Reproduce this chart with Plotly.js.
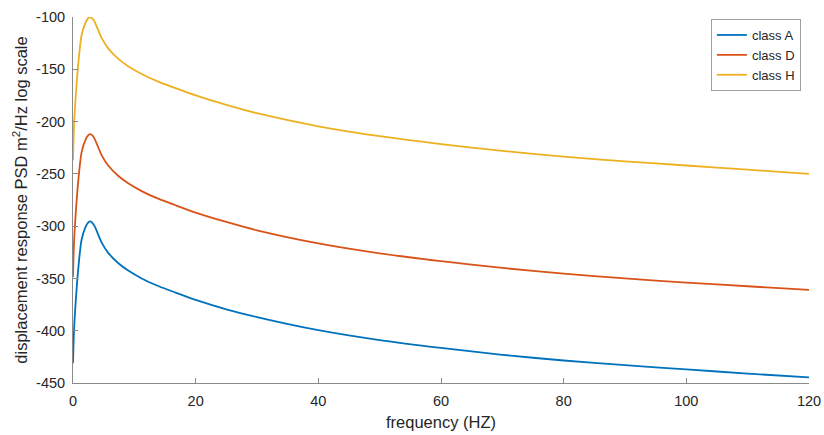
<!DOCTYPE html>
<html>
<head>
<meta charset="utf-8">
<script src="https://cdn.plot.ly/plotly-3.0.1.min.js"></script>
<style>html,body{margin:0;padding:0;background:#fff;}#chart{width:824px;height:435px;}</style>
</head>
<body>
<div id="chart"></div>
<script>
const freq = [0, 0.15, 0.3, 0.5, 0.9, 1.4, 2.0, 2.5, 2.8, 3.2, 3.6, 4.7, 5.8, 7.4, 9, 11.2, 14, 16.7, 20, 25, 30, 40, 50, 60, 70, 80, 90, 100, 110, 120];
const classA = [-431, -402, -385, -367, -338, -313, -301.5, -296.5, -295.5, -297, -301, -316, -326, -335.5, -342.5, -350, -357.5, -363.5, -370.5, -379.5, -387, -399.5, -409, -416.5, -423, -428.5, -433, -437, -441, -444.7];
const classD = [-348.5, -318, -301, -283, -254, -229.5, -218, -213, -212, -213.5, -217.5, -232.5, -242.5, -252, -259, -266.5, -274, -280, -287, -296, -304, -316.5, -326, -333.5, -340, -345.5, -350, -354, -357.5, -361];
const classH = [-237, -206, -189, -171, -142, -117.5, -106, -101, -100.3, -101.5, -105.5, -120.5, -130.5, -140, -147, -154.5, -162, -168, -175, -184, -192, -204.5, -214, -221.5, -228, -233.5, -238, -242, -246, -250];
const seriesNames = ['class A', 'class D', 'class H'];
const xTicks = [0, 20, 40, 60, 80, 100, 120];
const yTicks = [-450, -400, -350, -300, -250, -200, -150, -100];

const colors = ['#0072BD', '#D95319', '#EDB120'];
const data = [classA, classD, classH].map((ys, i) => ({
  x: freq, y: ys, type: 'scatter', mode: 'lines', name: seriesNames[i],
  line: {color: colors[i], width: 1.8, shape: 'spline', smoothing: 0.8}
}));

const fam = 'Liberation Sans, Arial, sans-serif';
const txt = '#262626';
const layout = {
  width: 824, height: 435,
  margin: {l: 73, r: 15, t: 17, b: 52},
  paper_bgcolor: '#fff', plot_bgcolor: '#fff',
  font: {family: fam, size: 14.5, color: txt},
  showlegend: true,
  legend: {x: 0.989, y: 0.9945, xanchor: 'right', yanchor: 'top', bgcolor: '#fff',
    bordercolor: '#A0A0A0', borderwidth: 1, font: {family: fam, size: 13, color: txt},
    itemwidth: 30, tracegroupgap: 0},
  xaxis: {range: [0, 120], tickvals: xTicks, ticktext: xTicks.map(String), showgrid: false, zeroline: false,
    showline: true, linecolor: '#8a8a8a', linewidth: 1, ticks: 'inside', ticklen: 5, tickcolor: '#8a8a8a',
    ticklabelstandoff: 5, tickfont: {family: fam, size: 14.5, color: txt},
    title: {text: 'frequency (HZ)', font: {family: fam, size: 16.5, color: txt}, standoff: 8}},
  yaxis: {range: [-450, -100], tickvals: yTicks, ticktext: yTicks.map(String), showgrid: false, zeroline: false,
    showline: true, linecolor: '#8a8a8a', linewidth: 1, ticks: 'inside', ticklen: 5, tickcolor: '#8a8a8a',
    ticklabelstandoff: 4, tickfont: {family: fam, size: 14.5, color: txt},
    title: {text: 'displacement response PSD m<sup>2</sup>/Hz log scale', font: {family: fam, size: 16.5, color: txt}, standoff: 4}}
};
Plotly.newPlot('chart', data, layout, {displayModeBar: false, staticPlot: true});
</script>
</body>
</html>
